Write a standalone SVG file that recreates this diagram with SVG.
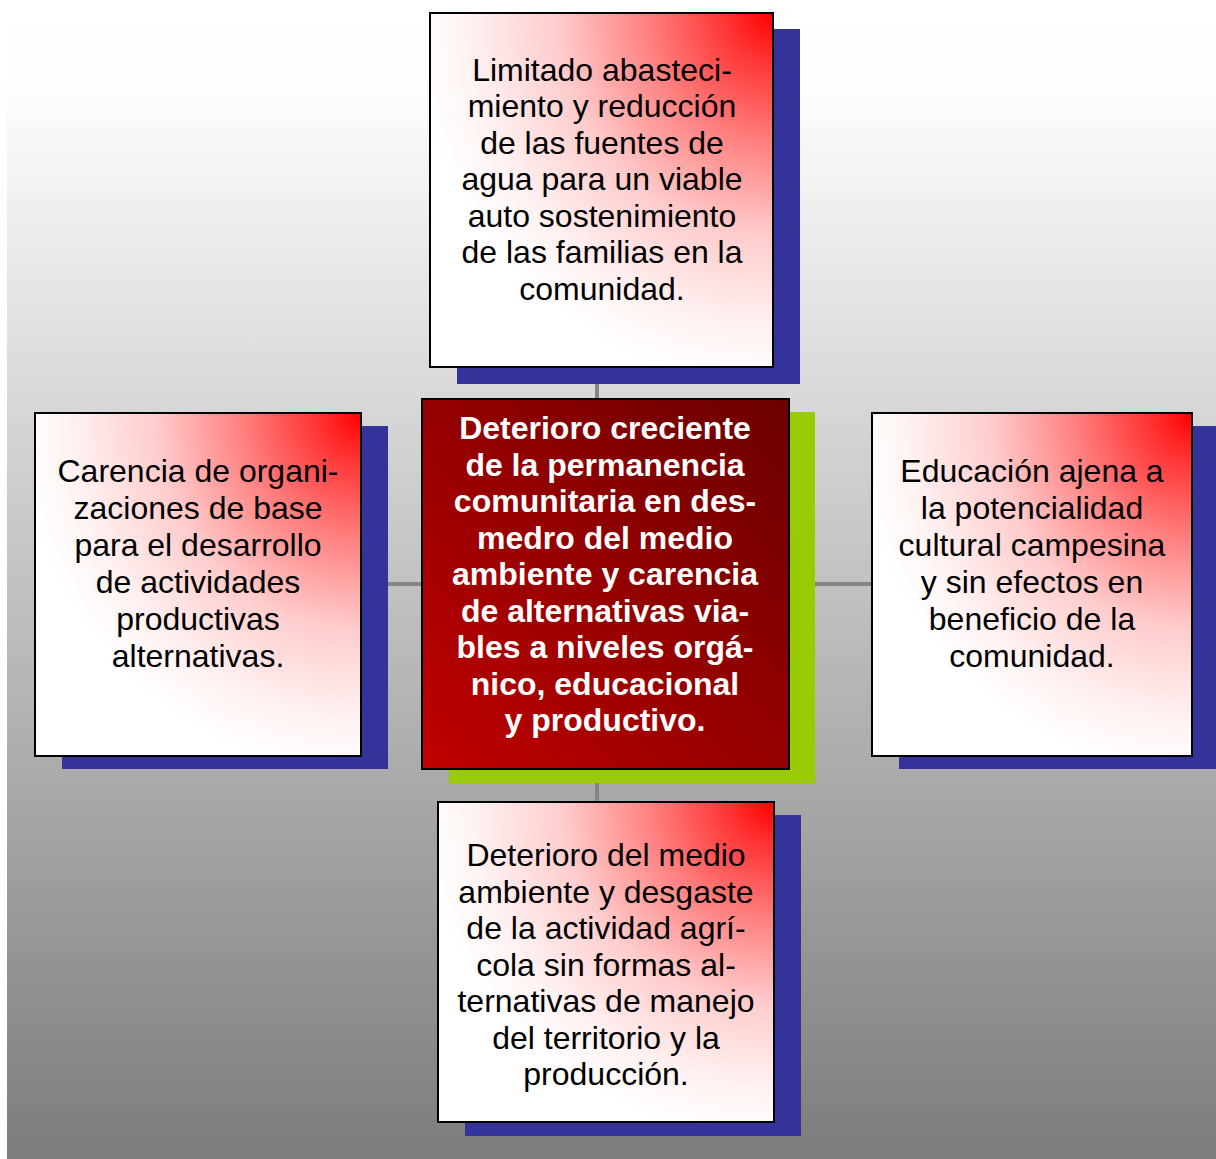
<svg xmlns="http://www.w3.org/2000/svg" width="1216" height="1159" viewBox="0 0 1216 1159">
<defs>
<linearGradient id="bg" x1="0" y1="0" x2="0" y2="1">
<stop offset="0" stop-color="#ffffff"/>
<stop offset="0.08" stop-color="#fdfdfd"/>
<stop offset="1" stop-color="#7c7c7c"/>
</linearGradient>
<radialGradient id="rg" cx="1" cy="0" r="1.05" gradientUnits="objectBoundingBox">
<stop offset="0" stop-color="#ff0000"/>
<stop offset="0.12" stop-color="#ff3030"/>
<stop offset="0.35" stop-color="#ff8080"/>
<stop offset="0.6" stop-color="#ffcccc"/>
<stop offset="0.85" stop-color="#fff2f2"/>
<stop offset="1" stop-color="#ffffff"/>
</radialGradient>
<linearGradient id="cg" x1="0" y1="1" x2="1" y2="0">
<stop offset="0" stop-color="#c00000"/>
<stop offset="1" stop-color="#6a0000"/>
</linearGradient>
<style>
.box{fill:url(#rg);stroke:#000;stroke-width:2}
.sh{fill:#333399}
.t{font-family:"Liberation Sans",Arial,sans-serif;font-size:32px;fill:#000;text-anchor:middle}
.tb{font-family:"Liberation Sans",Arial,sans-serif;font-size:32px;font-weight:bold;fill:#fff;text-anchor:middle}
.c{stroke:#858585;stroke-width:4;fill:none}
</style>
</defs>
<rect x="7" y="0" width="1209" height="1159" fill="url(#bg)"/>
<g id="connectors">
<line class="c" x1="597" y1="367" x2="597" y2="802"/>
<line class="c" x1="361" y1="584" x2="872" y2="584"/>
</g>
<g id="top">
<rect class="sh" x="457" y="29" width="343" height="355"/>
<rect class="box" x="430" y="13" width="343" height="354"/>
<text class="t"><tspan x="602" y="80.5">Limitado abasteci-</tspan><tspan x="602" y="117">miento y reducción</tspan><tspan x="602" y="153.5">de las fuentes de</tspan><tspan x="602" y="190">agua para un viable</tspan><tspan x="602" y="226.5">auto sostenimiento</tspan><tspan x="602" y="263">de las familias en la</tspan><tspan x="602" y="299.5">comunidad.</tspan></text>
</g>
<g id="left">
<rect class="sh" x="62" y="426" width="326" height="343"/>
<rect class="box" x="35" y="413" width="326" height="343"/>
<text class="t"><tspan x="198" y="482">Carencia de organi-</tspan><tspan x="198" y="519">zaciones de base</tspan><tspan x="198" y="556">para el desarrollo</tspan><tspan x="198" y="593">de actividades</tspan><tspan x="198" y="630">productivas</tspan><tspan x="198" y="667">alternativas.</tspan></text>
</g>
<g id="right">
<rect class="sh" x="899" y="426" width="330" height="343"/>
<rect class="box" x="872" y="413" width="320" height="343"/>
<text class="t"><tspan x="1032" y="482">Educación ajena a</tspan><tspan x="1032" y="519">la potencialidad</tspan><tspan x="1032" y="556">cultural campesina</tspan><tspan x="1032" y="593">y sin efectos en</tspan><tspan x="1032" y="630">beneficio de la</tspan><tspan x="1032" y="667">comunidad.</tspan></text>
</g>
<g id="center">
<rect x="449" y="412" width="366" height="371" fill="#99cc00"/>
<rect x="422" y="399" width="367" height="370" fill="url(#cg)" stroke="#000" stroke-width="2"/>
<text class="tb"><tspan x="605" y="439">Deterioro creciente</tspan><tspan x="605" y="475.5">de la permanencia</tspan><tspan x="605" y="512">comunitaria en des-</tspan><tspan x="605" y="548.5">medro del medio</tspan><tspan x="605" y="585">ambiente y carencia</tspan><tspan x="605" y="621.5">de alternativas via-</tspan><tspan x="605" y="658">bles a niveles orgá-</tspan><tspan x="605" y="694.5">nico, educacional</tspan><tspan x="605" y="731">y productivo.</tspan></text>
</g>
<g id="bottom">
<rect class="sh" x="465" y="815" width="336" height="321"/>
<rect class="box" x="438" y="802" width="336" height="320"/>
<text class="t"><tspan x="606" y="866">Deterioro del medio</tspan><tspan x="606" y="902.5">ambiente y desgaste</tspan><tspan x="606" y="939">de la actividad agrí-</tspan><tspan x="606" y="975.5">cola sin formas al-</tspan><tspan x="606" y="1012">ternativas de manejo</tspan><tspan x="606" y="1048.5">del territorio y la</tspan><tspan x="606" y="1085">producción.</tspan></text>
</g>
</svg>
